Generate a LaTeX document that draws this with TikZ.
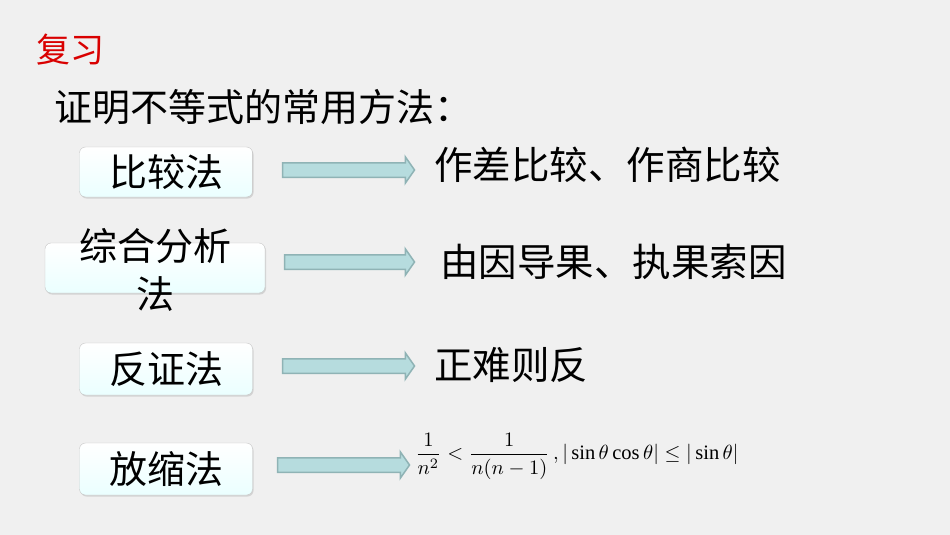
\documentclass[tikz,border=0pt]{standalone}
\usepackage{fontspec}
\setmainfont{Liberation Serif}
\newfontfamily\cjk{Noto Sans CJK SC}
\usetikzlibrary{shapes.arrows,shadows}
\definecolor{arrowfill}{HTML}{B6DCDE}
\definecolor{arrowdraw}{HTML}{8FB3B5}
\begin{document}
\begin{tikzpicture}[x=1pt,y=-1pt,
  methodbox/.style={draw=gray!45, rounded corners=6pt, top color=white, bottom color=cyan!8, drop shadow={shadow xshift=1pt,shadow yshift=-1.5pt,opacity=0.25}, inner sep=0pt, font=\cjk\fontsize{38}{40}\selectfont, align=center},
  blockarrow/.style={single arrow, draw=arrowdraw, fill=arrowfill, line width=1.5pt, inner sep=0pt, minimum width=26pt, single arrow head extend=6pt, single arrow tip angle=110, text height=13pt, text depth=0pt, text width=0pt},
  result/.style={anchor=west, font=\cjk\fontsize{38.5}{42}\selectfont, inner sep=0pt}]
\fill[gray!12] (0,0) rectangle (950,535);
\useasboundingbox (0,0) rectangle (950,535);
\node[anchor=west, text=red!85!black, font=\cjk\fontsize{34}{38}\selectfont, inner sep=0pt] (title) at (36,50) {复习};
\node[anchor=west, font=\cjk\fontsize{38}{42}\selectfont, inner sep=0pt] (sub) at (54,107) {证明不等式的常用方法：};
\node[methodbox, minimum width=173pt, minimum height=50pt] (b1) at (166,172) {比较法};
\node[methodbox, minimum width=220pt, minimum height=50pt] (b2) at (155,268) {};
\node[font=\cjk\fontsize{38}{48}\selectfont, align=center, inner sep=0pt] (b2t) at (155,270) {综合分析\\法};
\node[methodbox, minimum width=173pt, minimum height=52pt] (b3) at (166,369) {反证法};
\node[methodbox, minimum width=173pt, minimum height=52pt] (b4) at (166,469) {放缩法};
\node[blockarrow, minimum height=132pt] (a1) at (346,170) {};
\node[blockarrow, minimum height=130pt] (a2) at (347,262) {};
\node[blockarrow, minimum height=132pt] (a3) at (346,366) {};
\node[blockarrow, minimum height=132pt] (a4) at (341,465) {};
\node[result] (r1) at (434,165) {作差比较、作商比较};
\node[result] (r2) at (440,262) {由因导果、执果索因};
\node[result] (r3) at (434,365) {正难则反};
\node[anchor=west, inner sep=0pt] (r4) at (415,456) {\scalebox{2.05}{$\displaystyle\frac{1}{n^2}<\frac{1}{n(n-1)}\,,|\sin\theta\cos\theta|\le|\sin\theta|$}};
\end{tikzpicture}
\end{document}
